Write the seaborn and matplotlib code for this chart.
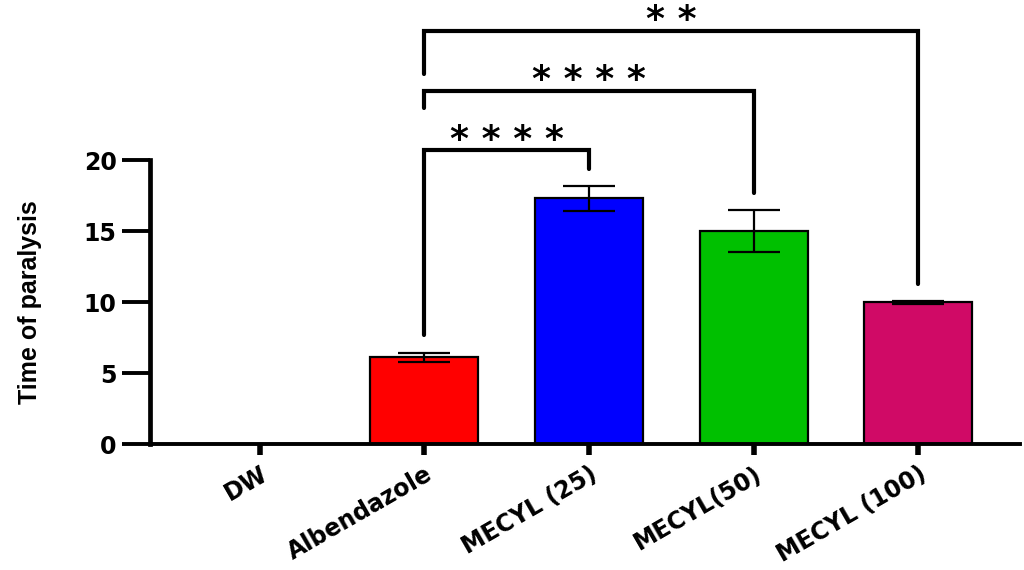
import numpy as np
import pandas as pd
import matplotlib
matplotlib.use("Agg")
import matplotlib.pyplot as plt
import seaborn as sns

groups = ["DW", "Albendazole", "MECYL (25)", "MECYL(50)", "MECYL (100)"]
means = [0.0, 6.1, 17.3, 15.0, 10.0]
errs = [0.0, 0.3, 0.9, 1.5, 0.1]
colors = ["#FFFFFF", "#FF0000", "#0000FF", "#00C000", "#D00A66"]

# comparisons: (group a, group b, bracket top, leg a bottom, leg b bottom, label)
comparisons = [
    (1, 2, 20.7, 7.7, 19.4, "* * * *"),
    (1, 3, 24.9, 23.7, 17.7, "* * * *"),
    (1, 4, 29.1, 26.1, 11.3, "* *"),
]

df = pd.DataFrame({"group": groups, "time": means})

sns.set_style("ticks", rc={"text.color": "black", "axes.labelcolor": "black",
                           "xtick.color": "black", "ytick.color": "black",
                           "axes.edgecolor": "black"})
plt.rcParams['font.family'] = ['DejaVu Sans']

fig = plt.figure(figsize=(10.24, 5.7), dpi=100)
ax = fig.add_axes([0.1465, 0.221, 0.85, 0.498])

sns.barplot(data=df, x="group", y="time", hue="group", palette=colors,
            saturation=1, errorbar=None, width=0.657, edgecolor="black",
            linewidth=1.6, legend=False, ax=ax)
ax.errorbar(np.arange(len(groups))[1:], means[1:], yerr=errs[1:], fmt="none",
            ecolor="black", elinewidth=1.6, capsize=19, capthick=1.6)

ax.set_xlim(-0.666, 4.62)
ax.set_ylim(0, 20)
ax.set_yticks([0, 5, 10, 15, 20])
sns.despine(ax=ax)
ax.spines["left"].set_linewidth(3.4)
ax.spines["bottom"].set_linewidth(2.8)
ax.tick_params(axis="y", width=2.8, length=20, direction="out",
               labelsize=17, pad=4)
ax.tick_params(axis="x", width=4, length=8, direction="out", pad=5)
for lab in ax.get_yticklabels():
    lab.set_fontweight("heavy")
ax.set_xticks(range(len(groups)))
ax.set_xticklabels(groups, rotation=30, ha="right", va="top",
                   rotation_mode="anchor", fontweight="heavy", fontsize=17)
ax.set_xlabel("")
ax.set_ylabel("Time of paralysis", fontsize=18, fontweight="bold",
              family=["Liberation Sans", "DejaVu Sans"], labelpad=30)

for a, b, top, la, lb, lab in comparisons:
    ax.plot([a, a, b, b], [la, top, top, lb], color="black", lw=3,
            clip_on=False, solid_joinstyle="miter")
    ax.text((a + b) / 2, top + 0.05, lab, ha="center", va="baseline",
            fontsize=26, fontweight="heavy", clip_on=False)

plt.savefig("out.png", dpi=100)
